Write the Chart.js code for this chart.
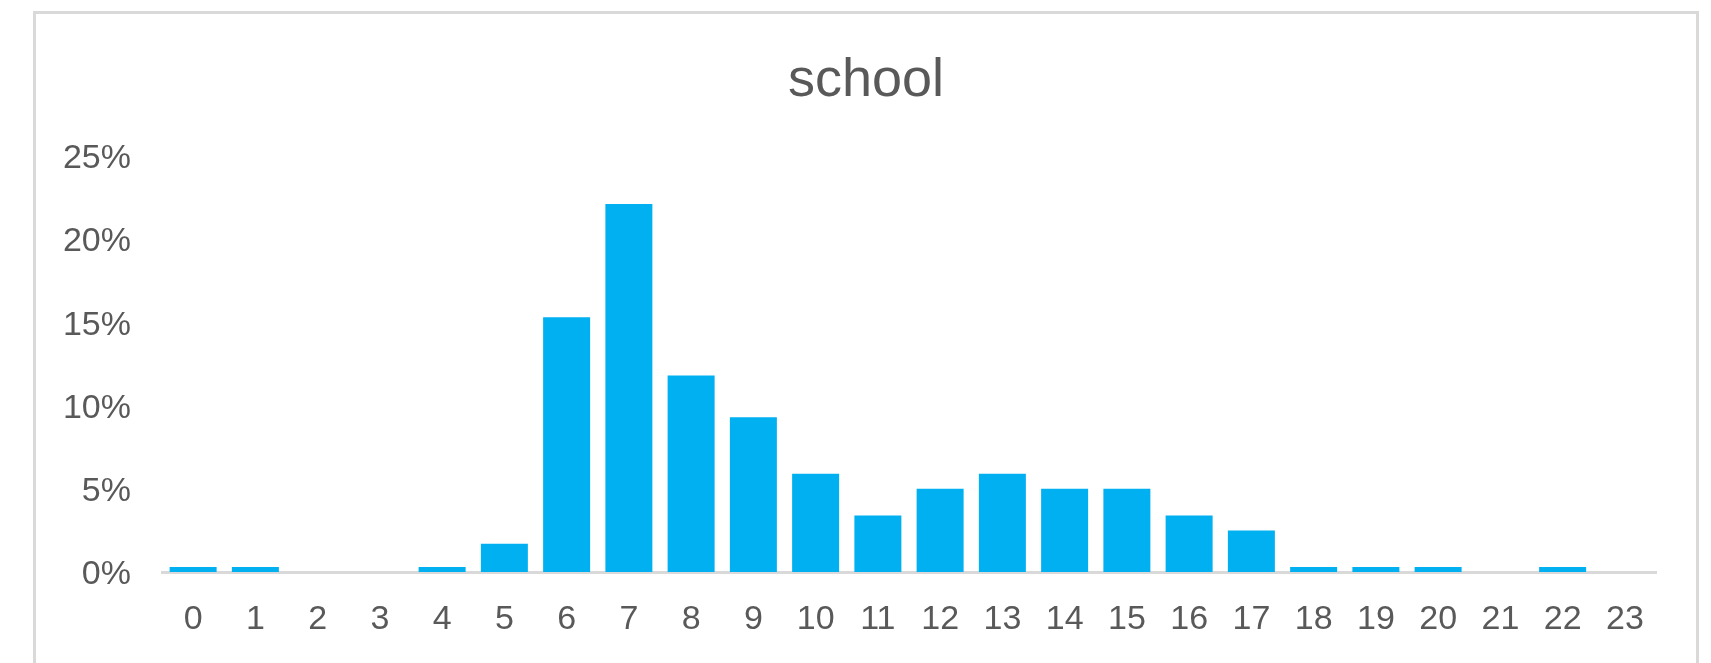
<!DOCTYPE html>
<html>
<head>
<meta charset="utf-8">
<script src="https://cdn.jsdelivr.net/npm/chart.js@4"></script>
<style>
  html, body { margin: 0; padding: 0; background: #fff; overflow: hidden; }
  .frame {
    position: absolute; left: 33px; top: 11px; width: 1666px; height: 660px;
    border: 3px solid #d9d9d9; box-sizing: border-box;
  }
  .chart-box { position: absolute; left: 0; top: 0; width: 1711px; height: 663px; }
</style>
</head>
<body>
<div class="frame"></div>
<div class="chart-box">
  <canvas id="schoolChart" width="1711" height="663"></canvas>
</div>
<script>
const hours = ['0', '1', '2', '3', '4', '5', '6', '7', '8', '9', '10', '11',
  '12', '13', '14', '15', '16', '17', '18', '19', '20', '21', '22', '23'];
const shares = [0.3, 0.3, 0, 0, 0.3, 1.7, 15.3, 22.1, 11.8, 9.3, 5.9, 3.4,
  5.0, 5.9, 5.0, 5.0, 3.4, 2.5, 0.3, 0.3, 0.3, 0, 0.3, 0];
const yTicks = [0, 5, 10, 15, 20, 25];

const textColor = '#595959';
const fontFamily = '"Liberation Sans", Arial, sans-serif';

const ctx = document.getElementById('schoolChart').getContext('2d');

new Chart(ctx, {
  type: 'bar',
  data: {
    labels: hours,
    datasets: [
      {
        label: 'school',
        data: shares,
        backgroundColor: '#00b0f0',
        borderWidth: 0,
        barPercentage: 0.755,
        categoryPercentage: 1,
      },
    ],
  },
  options: {
    responsive: false,
    animation: false,
    // title box spans [left pad, width]; 21px left keeps it centred in the frame
    layout: { padding: { left: 21, right: 0, top: 0, bottom: 0 } },
    plugins: {
      legend: { display: false },
      tooltip: { enabled: false },
      title: {
        display: true,
        text: 'school',
        color: textColor,
        font: { family: fontFamily, size: 54, weight: 'normal' },
        padding: { top: 49, bottom: 42 },
      },
    },
    scales: {
      x: {
        grid: { display: false, drawTicks: false },
        border: { display: true, color: '#d9d9d9', width: 3 },
        ticks: {
          color: textColor,
          font: { family: fontFamily, size: 34 },
          padding: 27,
          maxRotation: 0,
          autoSkip: false,
        },
        afterFit: (scale) => { scale.height = 91; },
      },
      y: {
        min: 0,
        max: 25,
        grid: { display: false, drawTicks: false },
        border: { display: false },
        afterBuildTicks: (scale) => {
          scale.ticks = yTicks.map((v) => ({ value: v }));
        },
        ticks: {
          color: textColor,
          font: { family: fontFamily, size: 34 },
          padding: 31,
          labelOffset: 3,
          callback: (v) => v + '%',
        },
        afterFit: (scale) => { scale.width = 141; },
      },
      // empty spacer on the right so the plot ends where the axis line ends
      spacer: {
        type: 'linear',
        position: 'right',
        grid: { display: false, drawTicks: false },
        border: { display: false },
        ticks: { display: false },
        afterFit: (scale) => { scale.width = 55; },
      },
    },
  },
});
</script>
</body>
</html>
